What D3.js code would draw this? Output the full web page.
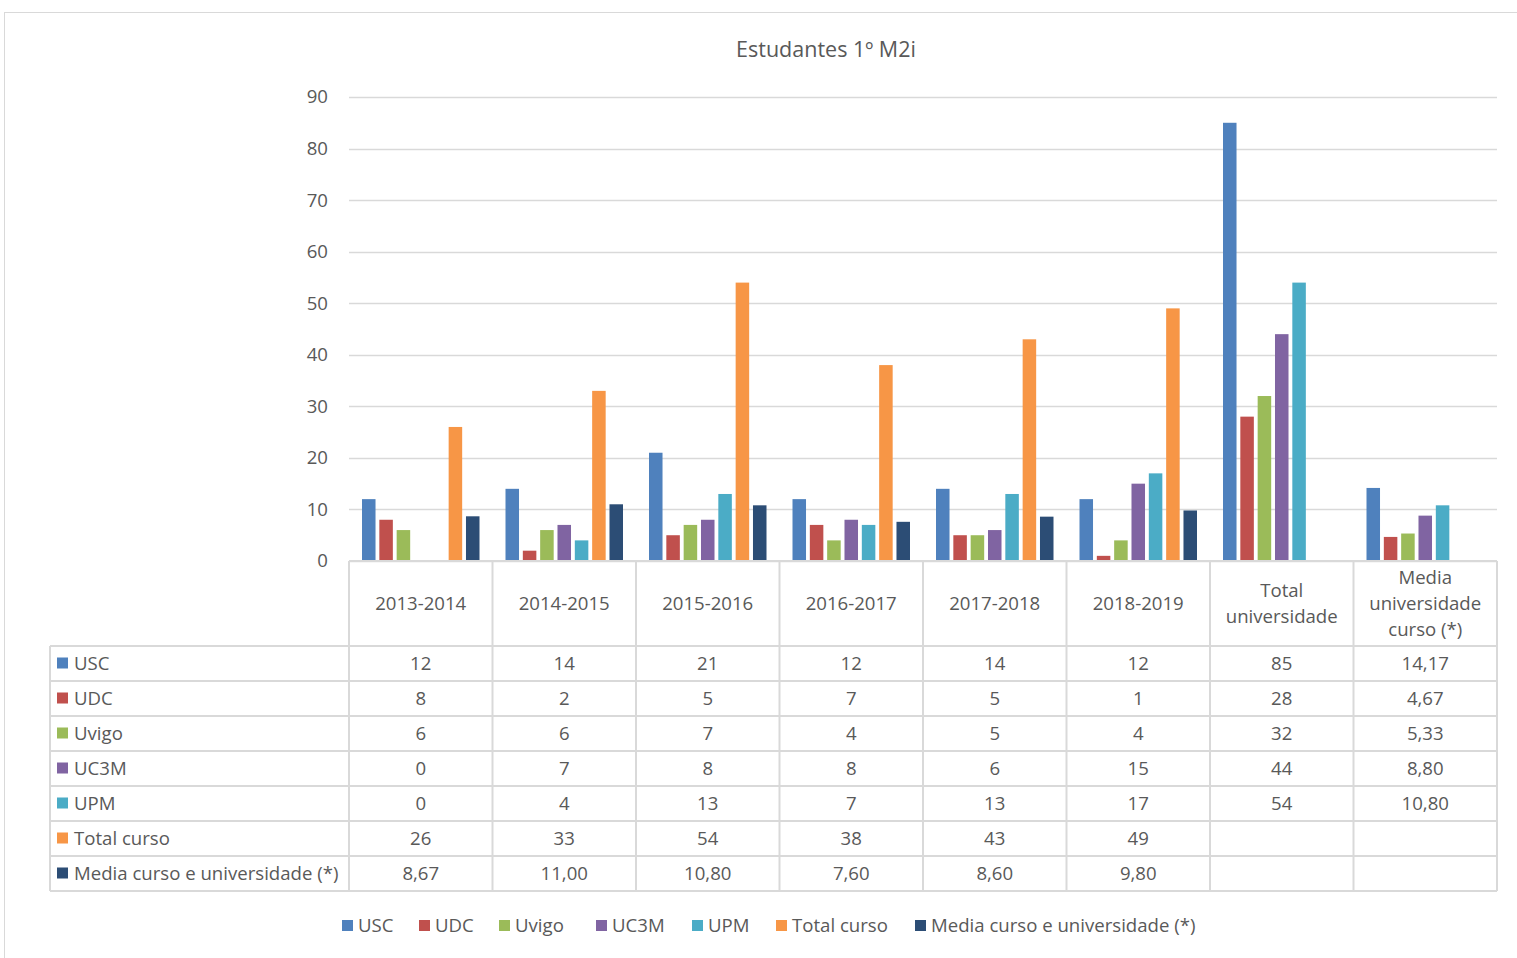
<!DOCTYPE html>
<html>
<head>
<meta charset="utf-8">
<script src="https://cdn.jsdelivr.net/npm/d3@7"></script>
<style>
    body { margin: 0; background: #fff; }
    text { font-family: "Open Sans", sans-serif; fill: #595959; }
</style>
</head>
<body>
<script>
(function(){
    //chart data
    var categories = ["2013-2014","2014-2015","2015-2016","2016-2017","2017-2018","2018-2019","Total universidade","Media universidade curso (*)"];
    var categoryLines = [["2013-2014"],["2014-2015"],["2015-2016"],["2016-2017"],["2017-2018"],["2018-2019"],["Total","universidade"],["Media","universidade","curso (*)"]];
    var seriesNames = ["USC","UDC","Uvigo","UC3M","UPM","Total curso","Media curso e universidade (*)"];
    var seriesColors = ["#4F81BD","#C0504D","#9BBB59","#8064A2","#4BACC6","#F79646","#2C4D75"];
    var usc = [12,14,21,12,14,12,85,14.17];
    var udc = [8,2,5,7,5,1,28,4.67];
    var uvigo = [6,6,7,4,5,4,32,5.33];
    var uc3m = [0,7,8,8,6,15,44,8.80];
    var upm = [0,4,13,7,13,17,54,10.80];
    var totalCurso = [26,33,54,38,43,49,null,null];
    var mediaCurso = [8.67,11.00,10.80,7.60,8.60,9.80,null,null];
    var yTicks = [0,10,20,30,40,50,60,70,80,90];
    var values = [usc, udc, uvigo, uc3m, upm, totalCurso, mediaCurso];

    window.onload = drawChart();

    function drawChart(){
        var width = 1517,
            height = 958,
            fontSize = "18.6px";

        var svg = d3.select("body")
            .append("svg")
            .attr("width", width)
            .attr("height", height);

        //outer chart border
        svg.append("rect")
            .attr("x", 4.5)
            .attr("y", 12.5)
            .attr("width", 1540)
            .attr("height", 960)
            .attr("fill", "none")
            .attr("stroke", "#d9d9d9");

        //title
        svg.append("text")
            .attr("x", 826)
            .attr("y", 57)
            .attr("text-anchor", "middle")
            .style("font-size", "21.5px")
            .text("Estudantes 1º M2i");

        var left = 349, right = 1497, top = 97, bottom = 561;

        var x = d3.scaleBand()
            .domain(categories)
            .range([left, right]);

        var y = d3.scaleLinear()
            .domain([0, 90])
            .range([bottom, top]);

        var xs = d3.scaleBand()
            .domain(seriesNames)
            .range([13, x.bandwidth() - 13])
            .paddingInner(0.22);

        //gridlines
        svg.append("g")
            .selectAll("line")
            .data(yTicks)
            .enter()
            .append("line")
            .attr("x1", left)
            .attr("x2", right)
            .attr("y1", function(d){ return Math.round(y(d)) + 0.5; })
            .attr("y2", function(d){ return Math.round(y(d)) + 0.5; })
            .attr("stroke", "#d9d9d9")
            .attr("stroke-width", 1.3);

        //y axis labels
        var yAxis = d3.axisLeft(y)
            .tickValues(yTicks)
            .tickSize(0)
            .tickPadding(21);
        var yg = svg.append("g")
            .attr("transform", "translate(" + left + ",0)")
            .call(yAxis);
        yg.select(".domain").remove();
        yg.selectAll("text")
            .style("font-size", fontSize)
            .style("font-family", "'Open Sans', sans-serif")
            .attr("fill", "#595959");

        //bars
        seriesNames.forEach(function(name, i){
            var data = categories.map(function(c, j){ return {cat: c, v: values[i][j]}; })
                .filter(function(d){ return d.v !== null && d.v > 0; });
            svg.append("g")
                .selectAll("rect")
                .data(data)
                .enter()
                .append("rect")
                .attr("x", function(d){ return x(d.cat) + xs(name); })
                .attr("y", function(d){ return y(d.v); })
                .attr("width", xs.bandwidth())
                .attr("height", function(d){ return y(0) - y(d.v); })
                .attr("fill", seriesColors[i]);
        });

        //data table
        var rowH = 35, headerBottom = 646, tableLeft = 50;
        var grid = svg.append("g")
            .attr("stroke", "#d9d9d9")
            .attr("stroke-width", 2);

        //vertical lines
        categories.forEach(function(c){
            grid.append("line")
                .attr("x1", x(c)).attr("x2", x(c))
                .attr("y1", bottom).attr("y2", headerBottom + rowH * seriesNames.length);
        });
        grid.append("line")
            .attr("x1", right).attr("x2", right)
            .attr("y1", bottom).attr("y2", headerBottom + rowH * seriesNames.length);
        grid.append("line")
            .attr("x1", tableLeft).attr("x2", tableLeft)
            .attr("y1", headerBottom).attr("y2", headerBottom + rowH * seriesNames.length);

        //horizontal lines
        grid.append("line")
            .attr("x1", left).attr("x2", right)
            .attr("y1", bottom).attr("y2", bottom);
        d3.range(seriesNames.length + 1).forEach(function(r){
            grid.append("line")
                .attr("x1", tableLeft).attr("x2", right)
                .attr("y1", headerBottom + r * rowH).attr("y2", headerBottom + r * rowH);
        });

        //header labels
        categoryLines.forEach(function(lines, j){
            var cx = x(categories[j]) + x.bandwidth() / 2;
            var cy = (bottom + headerBottom) / 2;
            var lh = 26;
            lines.forEach(function(line, k){
                svg.append("text")
                    .attr("x", cx)
                    .attr("y", cy + (k - (lines.length - 1) / 2) * lh)
                    .attr("dy", "0.35em")
                    .attr("text-anchor", "middle")
                    .style("font-size", fontSize)
                    .text(line);
            });
        });

        //row labels and values
        var fmt = d3.format(".2f");
        seriesNames.forEach(function(name, i){
            var cy = headerBottom + i * rowH + rowH / 2;
            svg.append("rect")
                .attr("x", 57)
                .attr("y", cy - 6)
                .attr("width", 11)
                .attr("height", 11)
                .attr("fill", seriesColors[i]);
            svg.append("text")
                .attr("x", 74)
                .attr("y", cy)
                .attr("dy", "0.35em")
                .style("font-size", fontSize)
                .text(name);
            values[i].forEach(function(v, j){
                if (v === null) return;
                var label = (Number.isInteger(v) && i < 6 && j < 7) ? String(v) : fmt(v).replace(".", ",");
                svg.append("text")
                    .attr("x", x(categories[j]) + x.bandwidth() / 2)
                    .attr("y", cy)
                    .attr("dy", "0.35em")
                    .attr("text-anchor", "middle")
                    .style("font-size", fontSize)
                    .text(label);
            });
        });

        //legend
        var legendX = [342, 419, 499, 596, 692, 776, 915];
        var legend = svg.append("g");
        seriesNames.forEach(function(name, i){
            legend.append("rect")
                .attr("x", legendX[i])
                .attr("y", 920)
                .attr("width", 11)
                .attr("height", 11)
                .attr("fill", seriesColors[i]);
            legend.append("text")
                .attr("x", legendX[i] + 16)
                .attr("y", 925)
                .attr("dy", "0.35em")
                .style("font-size", fontSize)
                .text(name);
        });
    };
})();
</script>
</body>
</html>
